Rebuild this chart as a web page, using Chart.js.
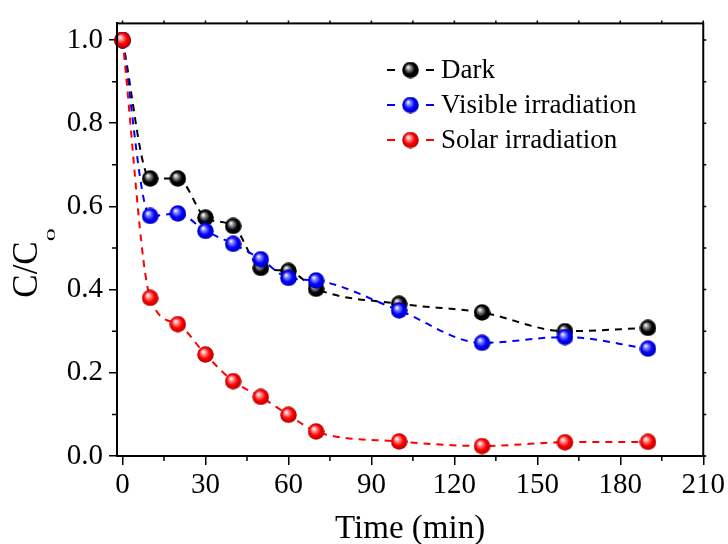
<!DOCTYPE html>
<html>
<head>
<meta charset="utf-8">
<script src="https://cdn.jsdelivr.net/npm/chart.js@4/dist/chart.umd.min.js"></script>
<style>
  html, body { margin: 0; padding: 0; background: #fff; }
</style>
</head>
<body>
<canvas id="chartCanvas" width="728" height="544"></canvas>
<script>
// --- data ---
const times = [0, 10, 20, 30, 40, 50, 60, 70, 100, 130, 160, 190];
const darkValues = [1.0, 0.667, 0.667, 0.573, 0.553, 0.452, 0.445, 0.402, 0.366, 0.345, 0.300, 0.308];
const visibleValues = [1.0, 0.577, 0.583, 0.541, 0.510, 0.473, 0.428, 0.422, 0.350, 0.272, 0.286, 0.258];
const solarValues = [1.0, 0.380, 0.317, 0.244, 0.180, 0.142, 0.099, 0.059, 0.035, 0.024, 0.033, 0.034];
const seriesNames = ['Dark', 'Visible irradiation', 'Solar irradiation'];
const xTicks = [0, 30, 60, 90, 120, 150, 180, 210];
const xMinorTicks = [15, 45, 75, 105, 135, 165, 195];
const yTicks = [0.0, 0.2, 0.4, 0.6, 0.8, 1.0];
const yMinorTicks = [0.1, 0.3, 0.5, 0.7, 0.9];

const FONT = '"Liberation Serif", "Times New Roman", serif';

// shaded ball marker
function makeSphere(hi, base, edge) {
    const c = document.createElement('canvas');
    c.width = 17; c.height = 17;
    const g = c.getContext('2d');
    const grad = g.createRadialGradient(6, 5.5, 0.3, 8.5, 8.5, 8.6);
    grad.addColorStop(0, '#ffffff');
    grad.addColorStop(0.22, hi);
    grad.addColorStop(0.6, base);
    grad.addColorStop(1, edge);
    g.fillStyle = grad;
    g.beginPath();
    g.arc(8.5, 8.5, 8.3, 0, Math.PI * 2);
    g.fill();
    return c;
}

const colors = ['#000000', '#0000ff', '#ff0000'];
const balls = [
    makeSphere('#9a9a9a', '#000000', '#000000'),
    makeSphere('#8a8aff', '#0000ff', '#0000b0'),
    makeSphere('#ff9a9a', '#ff0000', '#b00000')
];

function toPoints(values) {
    return times.map((t, i) => ({ x: t, y: values[i] }));
}

const allValues = [darkValues, visibleValues, solarValues];

// frame, minor ticks, axis titles and legend
const decorPlugin = {
    id: 'decor',
    afterDraw(chart) {
        const { ctx, chartArea: a, scales: { x, y } } = chart;
        ctx.save();
        ctx.strokeStyle = '#000';
        ctx.lineWidth = 2;
        ctx.strokeRect(a.left, a.top, a.right - a.left, a.bottom - a.top);

        ctx.lineWidth = 1.5;
        ctx.beginPath();
        xMinorTicks.forEach(v => {
            const px = x.getPixelForValue(v);
            ctx.moveTo(px, a.bottom); ctx.lineTo(px, a.bottom + 5);
        });
        xTicks.concat(xMinorTicks).forEach(v => {
            const px = x.getPixelForValue(v);
            ctx.moveTo(px, a.top); ctx.lineTo(px, a.top - 3);
        });
        yMinorTicks.forEach(v => {
            const py = y.getPixelForValue(v);
            ctx.moveTo(a.left, py); ctx.lineTo(a.left - 5, py);
        });
        yTicks.concat(yMinorTicks).forEach(v => {
            const py = y.getPixelForValue(v);
            ctx.moveTo(a.right, py); ctx.lineTo(a.right + 3, py);
        });
        ctx.stroke();

        // x title
        ctx.fillStyle = '#000';
        ctx.font = '33px ' + FONT;
        ctx.textAlign = 'center';
        ctx.textBaseline = 'alphabetic';
        ctx.fillText('Time (min)', (a.left + a.right) / 2, 538);

        // y title with subscript
        ctx.save();
        ctx.translate(37, 263);
        ctx.rotate(-Math.PI / 2);
        ctx.font = '35px ' + FONT;
        const main = 'C/C';
        const wMain = ctx.measureText(main).width;
        ctx.font = '26px ' + FONT;
        const wSub = ctx.measureText('0').width;
        const start = -(wMain + wSub) / 2;
        ctx.textAlign = 'left';
        ctx.font = '35px ' + FONT;
        ctx.fillText(main, start, 0);
        ctx.translate(start + wMain, 18);
        ctx.scale(1, 0.5);
        ctx.font = '26px ' + FONT;
        ctx.fillText('0', 0, 0);
        ctx.restore();

        // legend
        const rowY = [70, 105, 140];
        ctx.font = '27px ' + FONT;
        ctx.textAlign = 'left';
        ctx.textBaseline = 'middle';
        seriesNames.forEach((name, i) => {
            const yy = rowY[i];
            ctx.strokeStyle = colors[i];
            ctx.lineWidth = 2;
            ctx.beginPath();
            ctx.moveTo(387, yy); ctx.lineTo(395, yy);
            ctx.moveTo(426, yy); ctx.lineTo(434, yy);
            ctx.stroke();
            ctx.drawImage(balls[i], 410.5 - 8.5, yy - 8.5);
            ctx.fillStyle = '#000';
            ctx.fillText(name, 441, yy + 1);
        });
        ctx.restore();
    }
};

const datasets = seriesNames.map((name, i) => ({
    label: name,
    data: toPoints(allValues[i]),
    borderColor: colors[i],
    borderWidth: 2,
    borderDash: [7, 6],
    cubicInterpolationMode: 'monotone',
    pointStyle: balls[i],
    pointRadius: 8,
    pointHoverRadius: 8,
    clip: false,
    order: 3 - i
}));

new Chart(document.getElementById('chartCanvas'), {
    type: 'line',
    data: { datasets: datasets },
    options: {
        responsive: false,
        animation: false,
        layout: { padding: { top: 15, right: 23, left: 0, bottom: 0 } },
        plugins: {
            legend: { display: false },
            tooltip: { enabled: false }
        },
        scales: {
            x: {
                type: 'linear',
                min: -2,
                max: 210,
                afterBuildTicks: (scale) => { scale.ticks = xTicks.map(v => ({ value: v })); },
                afterFit: (scale) => { scale.height = 88; },
                grid: { drawOnChartArea: false, color: '#000', lineWidth: 1.5, tickLength: 9 },
                border: { color: '#000', width: 2 },
                ticks: {
                    color: '#000',
                    font: { family: FONT, size: 29 },
                    padding: 3,
                    maxRotation: 0,
                    autoSkip: false
                }
            },
            y: {
                min: 0,
                max: 1.04,
                afterBuildTicks: (scale) => { scale.ticks = yTicks.map(v => ({ value: v })); },
                afterFit: (scale) => { scale.width = 117; },
                grid: { drawOnChartArea: false, color: '#000', lineWidth: 1.5, tickLength: 8 },
                border: { color: '#000', width: 2 },
                ticks: {
                    color: '#000',
                    font: { family: FONT, size: 29 },
                    padding: 6,
                    callback: (v) => v.toFixed(1)
                }
            }
        }
    },
    plugins: [decorPlugin]
});
</script>
</body>
</html>
